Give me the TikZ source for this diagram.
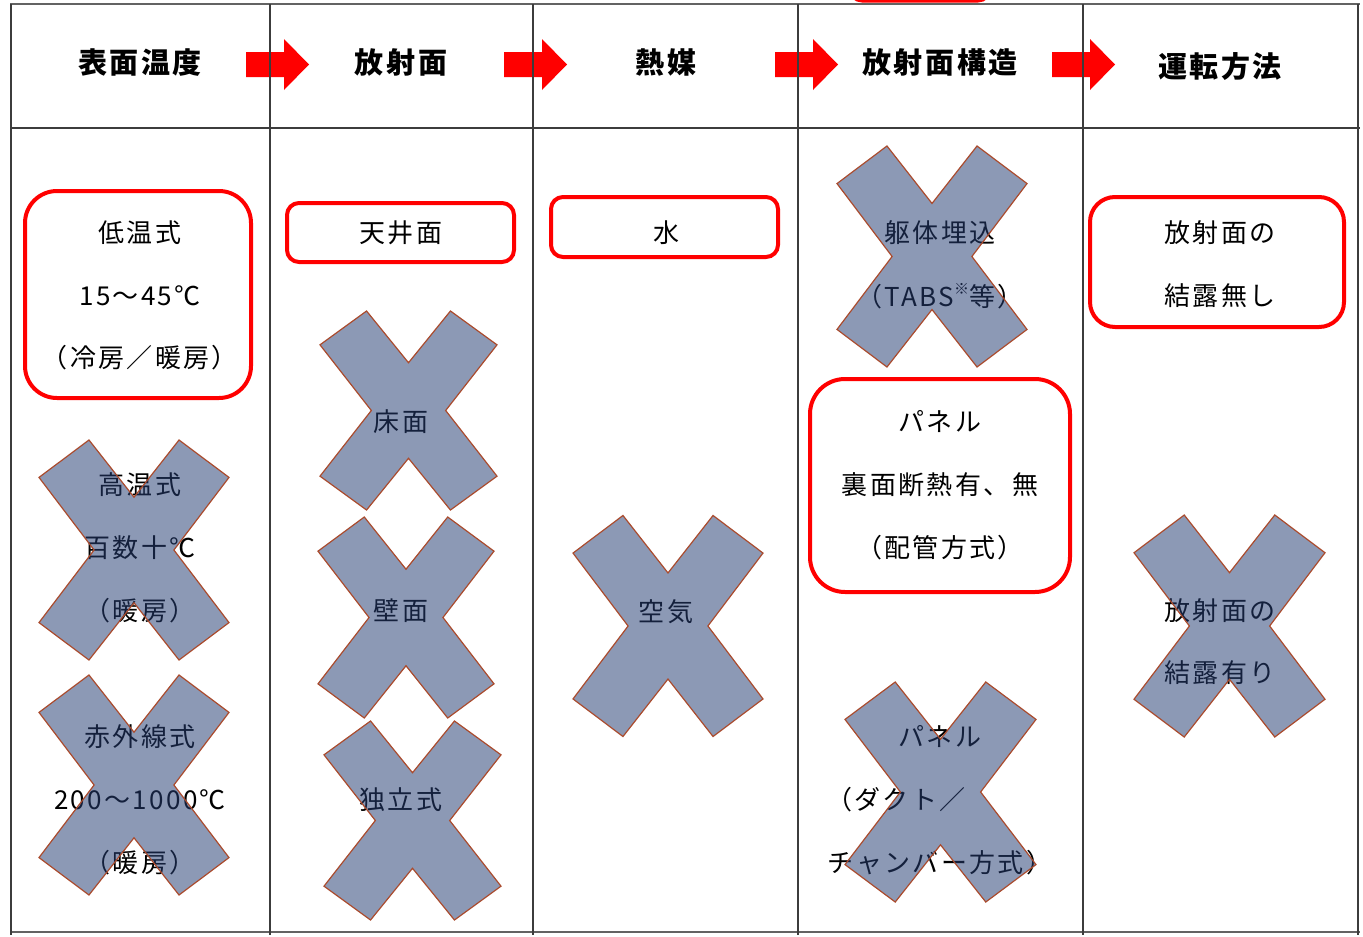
\documentclass[tikz,border=0pt]{standalone}
\usepackage{fontspec}
\setmainfont[LetterSpace=9]{Noto Sans CJK JP}
\definecolor{xfill}{RGB}{38,62,115}
\definecolor{xline}{RGB}{170,75,45}
\definecolor{tline}{RGB}{60,60,60}
\begin{document}
\begin{tikzpicture}[x=1pt,y=-1pt,
  txt/.style={font=\fontsize{26}{26}\selectfont, inner sep=0pt, anchor=center},
  hdr/.style={font=\fontsize{29}{29}\selectfont\bfseries, inner sep=0pt, anchor=center},
  redbox/.style={draw=red, line width=4},
  xmark/.style={fill=xfill, fill opacity=0.53, draw=xline, line width=1.2},
  arr/.style={fill=red},
  tl/.style={draw=tline, line width=1.3},
  tlb/.style={draw=tline!80, line width=2.6}]
\useasboundingbox (0,0) rectangle (1363,937);
% partial red box at top edge
\begin{scope}
\clip (0,0) rectangle (1363,937);
\draw[redbox, rounded corners=12] (850,-40) rectangle (990,0.5);
\end{scope}
% arrows
\foreach \ax in {246,504,775,1052}{
  \fill[arr, shift={(\ax,0)}] (0,52) -- (38,52) -- (38,39) -- (63,64.5) -- (38,90) -- (38,77) -- (0,77) -- cycle;
}
% table
\draw[tlb] (10,4) -- (1360,4);
\draw[tlb] (10,932) -- (1360,932);
\draw[tl] (10,128) -- (1360,128);
\foreach \cx in {11,270,533,798,1083,1358}{\draw[tl] (\cx,4) -- (\cx,935);}
% headers
\node[hdr] (h1) at (140,63) {表面温度};
\node[hdr] (h2) at (401,63) {放射面};
\node[hdr] (h3) at (666,63) {熱媒};
\node[hdr] (h4) at (940,63) {放射面構造};
\node[hdr] (h5) at (1220,67) {運転方法};
% column 1
\node[txt] (c1a) at (140,233) {低温式};
\node[txt] (c1b) at (140,296) {15～45℃};
\node[txt] (c1c) at (140,358) {（冷房／暖房）};
\node[txt] (c1d) at (140,485) {高温式};
\node[txt] (c1e) at (140,548) {百数十℃};
\node[txt] (c1f) at (140,611) {（暖房）};
\node[txt] (c1g) at (140,737) {赤外線式};
\node[txt] (c1h) at (140,800) {200～1000℃};
\node[txt] (c1i) at (140,863) {（暖房）};
% column 2
\node[txt] (c2a) at (401,233) {天井面};
\node[txt] (c2b) at (401,422) {床面};
\node[txt] (c2c) at (401,611) {壁面};
\node[txt] (c2d) at (401,800) {独立式};
% column 3
\node[txt] (c3a) at (666,233) {水};
\node[txt] (c3b) at (666,612) {空気};
% column 4
\node[txt] (c4a) at (940,233) {躯体埋込};
\node[txt] (c4b) at (940,296) {（TABS\raisebox{0.45em}{\fontsize{15}{15}\selectfont ※}等）};
\node[txt] (c4c) at (940,422) {パネル};
\node[txt] (c4d) at (940,485) {裏面断熱有、無};
\node[txt] (c4e) at (940,548) {（配管方式）};
\node[txt] (c4f) at (940,737) {パネル};
\node[txt, anchor=west] (c4g) at (826,800) {（ダクト／};
\node[txt] (c4h) at (940,863) {チャンバー方式）};
% column 5
\node[txt] (c5a) at (1220,233) {放射面の};
\node[txt] (c5b) at (1220,296) {結露無し};
\node[txt] (c5c) at (1220,611) {放射面の};
\node[txt] (c5d) at (1220,673) {結露有り};
% X marks
\foreach \cx/\cy/\w/\h in {134/550/95/110, 134/785/95/110, 408.5/410.5/88.5/99.5, 406/617.5/88/100.5, 412.5/820.5/88.5/99.5, 668/626/95/110.5, 932/256.5/95/110.5, 940.5/792/95.5/110, 1229.5/626/95.5/111}{
  \draw[xmark, shift={(\cx,\cy)}, xscale=\w, yscale=\h]
    (-1,-0.66) -- (-0.474,-1) -- (0,-0.48) -- (0.474,-1) -- (1,-0.66) -- (0.42,0)
    -- (1,0.66) -- (0.474,1) -- (0,0.48) -- (-0.474,1) -- (-1,0.66) -- (-0.42,0) -- cycle;
}
% red boxes
\draw[redbox, rounded corners=32] (25,191) rectangle (251,398);
\draw[redbox, rounded corners=12] (287,203) rectangle (514,262);
\draw[redbox, rounded corners=12] (551,197) rectangle (778,257);
\draw[redbox, rounded corners=35] (810,379) rectangle (1070,592);
\draw[redbox, rounded corners=25] (1090,197) rectangle (1344,327);
\end{tikzpicture}
\end{document}
